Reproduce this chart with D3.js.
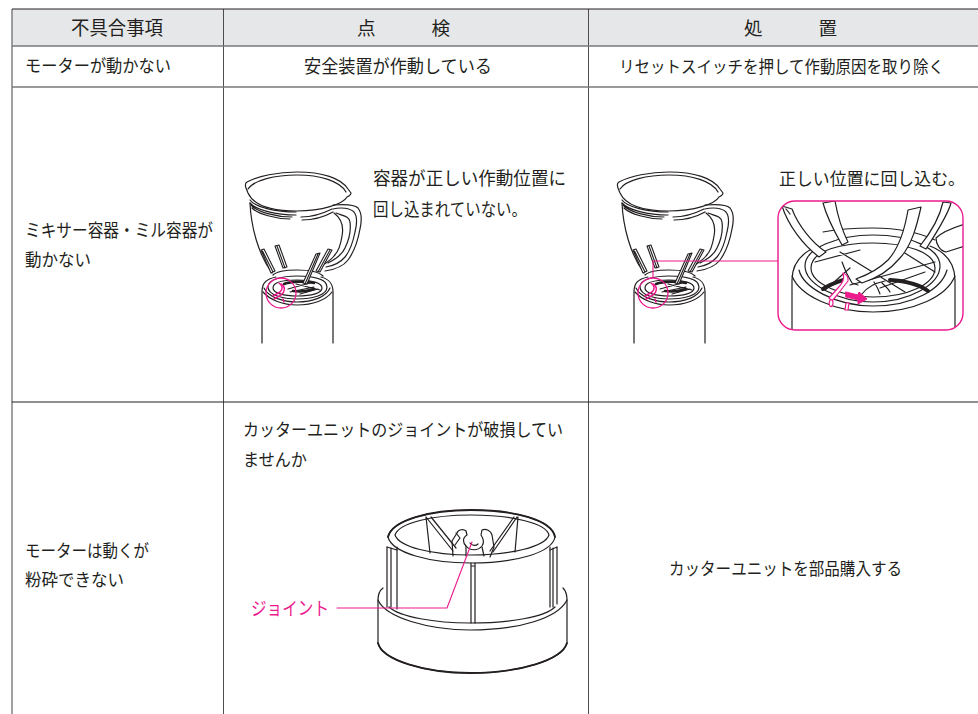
<!DOCTYPE html>
<html>
<head>
<meta charset="utf-8">
<script src="https://cdn.jsdelivr.net/npm/d3@7"></script>
<style>
  html, body { margin: 0; background: #fff; }
  svg { display: block; }
  text { font-family: "Noto Sans CJK JP", "Noto Sans", sans-serif; fill: #231f20; }
</style>
</head>
<body>
<svg id="chart"></svg>
<script>
// Table content
const headerLabels = ['不具合事項', '点　　　検', '処　　　置'];
const problemLabels = ['モーターが動かない', 'ミキサー容器・ミル容器が', '動かない', 'モーターは動くが', '粉砕できない'];
const checkLabels = ['安全装置が作動している', '容器が正しい作動位置に', '回し込まれていない。', 'カッターユニットのジョイントが破損してい', 'ませんか'];
const actionLabels = ['リセットスイッチを押して作動原因を取り除く', '正しい位置に回し込む。', 'カッターユニットを部品購入する'];
const partLabel = 'ジョイント';

// Illustration outlines
const jarOutline = [
  'M247 182 C258 176 278 172 297 172 C322 172 341 178 348 189 L351 193 C351 195 349 196 347 197 C343 204 322 211 297 211 C272 211 254 206 248 193 L246 188 C245 185 245 183 247 182 Z',
  'M248 189 C254 180 275 175 297 175 C320 175 340 181 346 192',
  'M250 200 C255 207 275 212 296 212 M250 203 C256 210 276 215 296 215 M251 205 C257 212 276 217 292 217 M301 217 C312 217 322 214 332 209 M252 208 C258 214 276 219 290 219 M302 220 C314 220 324 217 333 212',
  'M250 203 C251 226 258 254 272 273',
  'M333 205 C345 204 354 204 358 208 C362 213 362 220 360 229 C358 240 354 252 348 260 C342 268 332 270 325 271',
  'M333 209 C341 207 350 208 354 212 C358 217 357 224 355 232 C353 242 350 251 345 257 C340 263 332 266 326 267',
  'M336 213 C343 216 349 216 350 222 C351 230 349 240 345 248 C342 255 334 260 328 263',
  'M334 213 C342 219 344 226 342 236 C341 243 338 252 334 256 C331 260 327 262 323 265'
];
const jarFins = [
  'M261 250 L264 249 L275 271 L271 273 Z M262.5 251 L273 272',
  'M275 246 L279 245 L287 267 L283 268 Z M277 246 L285 268',
  'M316 254 L320 253 L307 284 L303 283 Z M318 254 L305 284',
  'M328 249 L332 250 L320 272 L316 271 Z M330 250 L318 272'
];
const motorOutline = [
  'M262 343 L262 292 C262 283 266 279 276 277 M333 343 L333 292 C333 283 329 279 321 277',
  'M263 292 C270 300 283 305 297 305 C313 305 326 300 332 292',
  'M264 288 C268 297 283 302 297 302 C313 302 326 297 330 288',
  'M268 287 C268 279 283 276 297 276 C313 276 327 279 327 287 C327 295 313 299 297 299 C283 299 268 295 268 287 Z',
  'M273 275 C277 271 287 270 297 270 C308 270 319 272 323 276',
  'M273 288 C273 282 284 280 297 280 C312 280 322 283 322 288 C322 293 312 296 297 296 C284 296 273 293 273 288 Z',
  'M288 289 L310 283 M290 292 L314 287 M300 294 L318 289 M296 284 L320 290'
];
const motorBand = ['M284 284 C292 281 305 281 314 283', 'M293 291 C300 292 308 291 314 289'];
const detailMarks = [
  'M279 283 C283 286 283 289 280 292 L273 296',
  'M281 284 C286 287 285 292 281 295 L274 299',
  'M283 299 L284 302'
];

const insetOutline = [
  'M792 331 L792 280 C792 262 803 252 818 246 M955 331 L955 280 C955 262 945 252 930 246',
  'M792 276 C800 296 835 312 873 312 C915 312 947 296 955 276',
  'M799 270 C803 287 835 306 873 306 C915 306 942 288 947 270',
  'M805 266 C805 248 838 235 873 235 C912 235 940 249 940 266 C940 284 910 302 873 302 C838 302 805 284 805 266 Z',
  'M811 268 C811 250 843 243 873 243 C905 243 935 252 935 268 C935 284 908 297 873 297 C843 297 811 284 811 268 Z',
  'M823 232 C838 229 856 228 873 228 C895 228 918 232 935 240',
  'M825 290 L850 268 M900 250 L935 272 M880 288 L925 272 M840 252 L905 292 M850 285 L935 262 M815 262 L860 250',
  'M862 294 C868 286 875 283 885 281 M880 294 C878 288 876 285 874 282 M890 292 C888 288 884 285 882 283',
  'M842 262 L846 272 L852 283 L858 285'
];
const insetFins = [
  'M782 206 L792 209 C798 225 812 243 826 252 L819 257 C803 245 788 225 782 206 Z M786 209 L790 214',
  'M823 203 L835 201 C838 218 843 232 848 242 L842 245 C834 231 827 218 823 203 Z',
  'M908 210 L921 207 C917 225 912 245 900 258 C890 270 878 278 862 283 L856 279 C870 274 880 268 888 260 C899 248 905 228 908 210 Z',
  'M943 202 L951 203 C948 215 935 235 926 249 L920 246 C932 231 940 216 943 202 Z',
  'M965 224 C952 228 942 232 936 238 C936 244 940 251 946 252 L965 246 Z'
];
const insetBand = [
  'M823 289 C830 284 840 281 846 279',
  'M890 280 C905 281 920 285 928 291'
];
const insetPink = [
  'M843 273 C846 274 849 277 848 281 L837 295 L832 301 L829 298 L838 288 C842 284 845 279 843 273 Z',
  'M830 300 C828 304 830 308 832 306 C834 303 833 299 830 300 Z',
  'M846 303 L845 310 L848 310 L849 303 Z'
];
const insetArrow = 'M846 292 L858 295 L859 292 L867 299 L858 304 L858 300 L846 297 Z';

const cutterOutline = [
  'M388 537 C392 520 430 510 471 510 C515 510 552 520 555 537 C552 553 515 563 471 563 C430 563 392 553 388 537 Z',
  'M395 535 C399 523 432 515 471 515 C511 515 546 523 549 535 C545 547 510 555 471 555 C432 555 399 547 395 535 Z',
  'M387 547 L387 607 M397 547 L397 609 M391 548 L391 607 M550 547 L550 607 M557 547 L557 604 M553 548 L553 607',
  'M387 547 L397 550 M550 550 L557 547',
  'M383 588 C379 591 378 595 378 600 L378 643 C382 660 425 673 470 673 C520 673 562 660 567 643 L567 600 C567 595 566 591 563 588',
  'M378 600 C386 618 430 630 470 630 C520 630 558 618 567 600',
  'M389 607 C400 617 435 623 470 623 C510 623 545 617 555 607',
  'M471 563 L471 623 M475 563 L475 623 M471 566 L475 566',
  'M426 517 L430 553 M426 517 L453 551 M431 517 L456 548 M517 517 L493 552 M514 517 L490 551 M518 517 L515 552'
];
const cutterJoint = [
  'M453 556 L452 541 L457 533 C458 529 464 529 466 531 L467 535 C462 538 463 543 466 546 C470 551 478 551 482 546 C485 542 483 538 481 535 L482 530 C486 528 491 531 492 535 L494 547 L490 557',
  'M456 533 L460 538 L455 545 M466 546 L466 556 M482 547 L484 556 M470 543 C472 546 476 546 478 544'
];

const W = 978, H = 714;
const colEdges = [12, 223.5, 588.5, 978];
const rowEdges = [9, 46, 87, 402, H];
const ink = '#231f20', pink = '#ec1a8d';

const svg = d3.select('#chart').attr('width', W).attr('height', H).attr('viewBox', [0, 0, W, H]);

// Table grid
svg.append('rect').attr('x', colEdges[0]).attr('y', rowEdges[0])
  .attr('width', W - colEdges[0]).attr('height', rowEdges[1] - rowEdges[0]).attr('fill', '#e6e7e8');

svg.append('g').selectAll('line').data(colEdges.slice(0, 3)).join('line')
  .attr('x1', d => d).attr('x2', d => d).attr('y1', rowEdges[0]).attr('y2', H)
  .attr('stroke', (d, i) => i === 0 ? '#6d6e70' : '#4d4d4f').attr('stroke-width', (d, i) => i === 0 ? 1.3 : 1);
svg.append('g').selectAll('line').data(rowEdges.slice(0, 4)).join('line')
  .attr('x1', colEdges[0]).attr('x2', W).attr('y1', d => d).attr('y2', d => d)
  .attr('stroke', (d, i) => i === 0 || i === 3 ? '#231f20' : '#77787b')
  .attr('stroke-width', (d, i) => i === 0 || i === 3 ? 1 : 1.4);

// Text helper: x is the left edge, w the measured run width, y the vertical middle
const put = (label, x, y, w, size, color = ink) => svg.append('text')
  .attr('x', x).attr('y', y).attr('dy', '0.36em')
  .attr('font-size', size)
  .attr('textLength', w).attr('lengthAdjust', 'spacingAndGlyphs')
  .style('fill', color)
  .text(label);

put(headerLabels[0], 71, 28, 92, 19);
put(headerLabels[1], 357, 28, 93, 18.5);
put(headerLabels[2], 744, 28, 93, 18.5);

put(problemLabels[0], 25, 66, 146, 17.5);
put(problemLabels[1], 25, 231, 188, 18);
put(problemLabels[2], 25, 260, 66, 17.5);
put(problemLabels[3], 25, 551, 124, 17.5);
put(problemLabels[4], 25, 580, 99, 17.5);

put(checkLabels[0], 304, 67, 188, 18);
put(checkLabels[1], 373, 179, 193, 18);
put(checkLabels[2], 373, 210, 154, 18);
put(checkLabels[3], 243, 430, 320, 17.5);
put(checkLabels[4], 243, 460, 64, 17.5);

put(actionLabels[0], 619, 67, 325, 16.5);
put(actionLabels[1], 779, 179, 186, 17.5);
put(actionLabels[2], 669, 569, 233, 17.5);

put(partLabel, 251, 608, 78, 18.5, pink);

// Illustrations
const draw = (parent, paths, width = 1.2, color = ink, fill = 'none') => parent.append('g')
  .selectAll('path').data(paths).join('path')
  .attr('d', d => d).attr('fill', fill).attr('stroke', color)
  .attr('stroke-width', width).attr('stroke-linejoin', 'round').attr('stroke-linecap', 'round');

const drawBlender = (dx) => {
  const g = svg.append('g').attr('transform', `translate(${dx},0)`);
  draw(g, jarOutline);
  draw(g, motorOutline);
  draw(g, motorBand, 2.6);
  draw(g, jarFins, 1.1, ink, '#fff');
  draw(g, detailMarks, 1.5, pink);
  g.append('circle').attr('cx', 281).attr('cy', 293).attr('r', 15)
    .attr('fill', 'none').attr('stroke', pink).attr('stroke-width', 1.3);
};
drawBlender(0);
drawBlender(372);

// Zoomed inset on the right
const clip = svg.append('clipPath').attr('id', 'inset');
clip.append('rect').attr('x', 778).attr('y', 201).attr('width', 185).attr('height', 129).attr('rx', 17);
const inset = svg.append('g').attr('clip-path', 'url(#inset)');
draw(inset, insetOutline);
draw(inset, insetBand, 4);
draw(inset, insetFins, 1.2, ink, '#fff');
draw(inset, insetPink, 1.2, pink, '#fff');
draw(inset, [insetArrow], 1, pink, pink);
svg.append('rect').attr('x', 778).attr('y', 201).attr('width', 185).attr('height', 129).attr('rx', 17)
  .attr('fill', 'none').attr('stroke', pink).attr('stroke-width', 1.4);
draw(svg, ['M653 277 L653 261 L778 261'], 1.1, pink);

// Cutter unit
draw(svg, cutterOutline);
draw(svg, ['M388 537 C392 520 430 510 471 510 C515 510 552 520 555 537', 'M378 643 C382 660 425 673 470 673 C520 673 562 660 567 643'], 1.8);
draw(svg, cutterJoint);
draw(svg, ['M337 608 L447 608 L472 542'], 1.1, pink);
</script>
</body>
</html>
